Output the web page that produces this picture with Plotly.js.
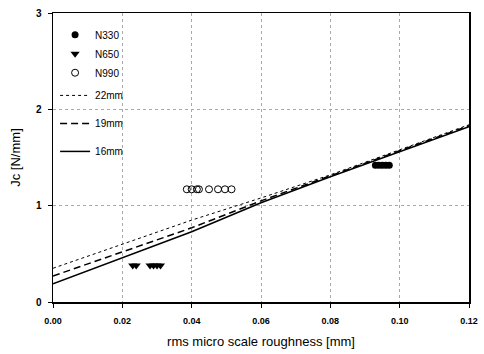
<!DOCTYPE html>
<html><head><meta charset="utf-8">
<script src="https://cdn.plot.ly/plotly-3.0.1.min.js"></script>
<style>html,body{margin:0;padding:0;background:#fff}#c{width:484px;height:354px}</style>
</head><body><div id="c"></div>
<script>
// Data
const n330X = [0.093, 0.094, 0.095, 0.096, 0.097];
const n330Y = [1.42, 1.42, 1.42, 1.42, 1.42];
const n650X = [0.023, 0.024, 0.028, 0.029, 0.030, 0.031];
const n650Y = [0.38, 0.38, 0.38, 0.38, 0.38, 0.38];
const n990X = [0.0386, 0.0400, 0.0415, 0.0421, 0.045, 0.0476, 0.0496, 0.0515];
const n990Y = [1.17, 1.17, 1.17, 1.17, 1.17, 1.17, 1.17, 1.17];
const lineX = [0, 0.04, 0.06, 0.08, 0.12];
const y22 = [0.35, 0.85, 1.08, 1.32, 1.84];
const y19 = [0.27, 0.77, 1.05, 1.31, 1.83];
const y16 = [0.19, 0.73, 1.03, 1.30, 1.82];
const xTicks = [0, 0.02, 0.04, 0.06, 0.08, 0.10, 0.12];
const xTickText = ['0.00','0.02','0.04','0.06','0.08','0.10','0.12'];
const yTicks = [0, 1, 2, 3];

const F = 'Liberation Sans, Arial, sans-serif';
const traces = [
  {x:n330X, y:n330Y, mode:'markers', name:'N330', marker:{symbol:'circle', size:7, color:'#000'}, legend:'legend'},
  {x:n650X, y:n650Y, mode:'markers', name:'N650', marker:{symbol:'triangle-down', size:8, color:'#000'}, legend:'legend'},
  {x:n990X, y:n990Y, mode:'markers', name:'N990', marker:{symbol:'circle-open', size:7, color:'#000', line:{width:1}}, legend:'legend'},
  {x:lineX, y:y22, mode:'lines', name:'22mm', line:{color:'#000', width:1, dash:'dot'}, legend:'legend2', legendgroup:'a'},
  {x:lineX, y:y19, mode:'lines', name:'19mm', line:{color:'#000', width:1.5, dash:'7px,4px'}, legend:'legend2', legendgroup:'b'},
  {x:lineX, y:y16, mode:'lines', name:'16mm', line:{color:'#000', width:1.5}, legend:'legend2', legendgroup:'c'}
];
const layout = {
  width:484, height:354,
  margin:{l:53, r:15, t:13, b:52},
  paper_bgcolor:'#fff', plot_bgcolor:'#fff',
  font:{family:F, color:'#000'},
  showlegend:true,
  xaxis:{range:[0,0.12], tickvals:xTicks, ticktext:xTickText, showline:true, linecolor:'#000', linewidth:1.5, mirror:true,
    ticks:'outside', ticklen:4, tickcolor:'#000', showgrid:true, gridcolor:'#aaa', griddash:'dot', gridwidth:1, zeroline:false,
    tickfont:{size:9, weight:'bold', family:F}, ticklabelstandoff:6,
    title:{text:'rms micro scale roughness [mm]', font:{size:13, family:F}, standoff:11}},
  yaxis:{range:[0,3], tickvals:yTicks, showline:true, linecolor:'#000', linewidth:1.5, mirror:true,
    ticks:'outside', ticklen:4, tickcolor:'#000', showgrid:true, gridcolor:'#aaa', griddash:'dot', gridwidth:1, zeroline:false,
    tickfont:{size:10, weight:'bold', family:F}, ticklabelstandoff:4,
    title:{text:'Jc [N/mm]', font:{size:13, family:F}, standoff:12}},
  legend:{x:0.005, y:0.975, xanchor:'left', yanchor:'top', bgcolor:'rgba(0,0,0,0)', borderwidth:0,
    font:{size:10, family:F}, itemwidth:30, tracegroupgap:0},
  legend2:{x:0.005, y:0.765, xanchor:'left', yanchor:'top', bgcolor:'rgba(0,0,0,0)', borderwidth:0,
    font:{size:10, family:F}, itemwidth:30, traceorder:'grouped', tracegroupgap:9}
};
Plotly.newPlot('c', traces, layout, {displayModeBar:false, staticPlot:true});
</script></body></html>
